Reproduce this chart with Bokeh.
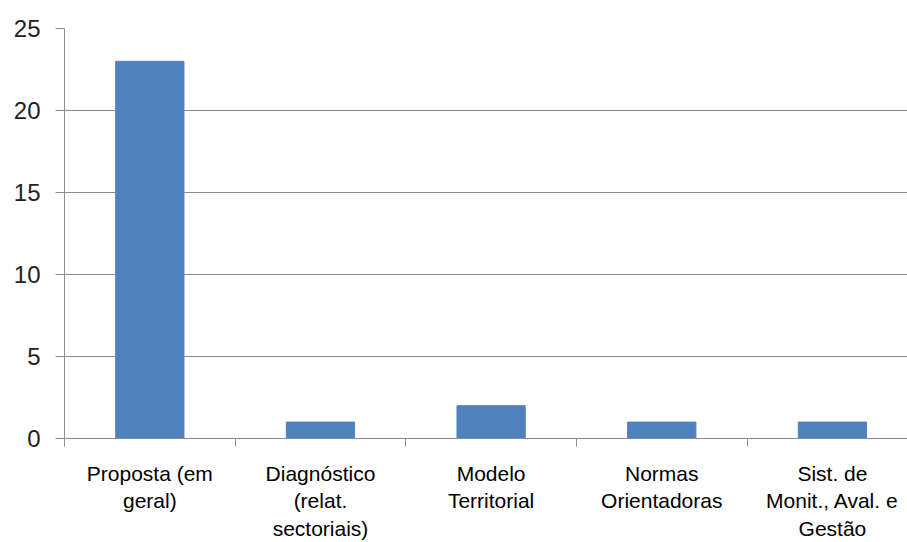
from bokeh.plotting import figure
from bokeh.models import FixedTicker, Range1d, ColumnDataSource
from bokeh.embed import file_html
from bokeh.resources import INLINE

categories = ["Proposta (em\ngeral)", "Diagnóstico\n(relat.\nsectoriais)", "Modelo\nTerritorial",
              "Normas\nOrientadoras", "Sist. de\nMonit., Aval. e\nGestão"]
values = [23, 1, 2, 1, 1]
y_ticks = [0, 5, 10, 15, 20, 25]

centers = [i + 0.5 for i in range(len(categories))]
bounds = list(range(len(categories) + 1))

src = ColumnDataSource(dict(x=centers, top=values))

p = figure(width=907, height=542, output_backend="svg", toolbar_location=None,
           x_range=Range1d(0, 4.94), y_range=Range1d(0, 25),
           min_border_left=64, min_border_right=0, min_border_top=28, min_border_bottom=90)
p.outline_line_color = None
p.background_fill_color = "white"

p.vbar(x="x", top="top", width=0.4, source=src, fill_color="#4F81BD", line_color="#4F81BD")

grey = "#8C8C8C"
p.xgrid.visible = False
p.ygrid.grid_line_color = grey
p.ygrid.grid_line_width = 1
p.ygrid.ticker = FixedTicker(ticks=y_ticks)

ya = p.yaxis[0]
ya.ticker = FixedTicker(ticks=y_ticks)
ya.axis_line_color = grey
ya.major_tick_line_color = grey
ya.major_tick_out = 9
ya.major_tick_in = 0
ya.minor_tick_line_color = None
ya.major_label_text_font = "Liberation Sans"
ya.major_label_text_font_size = "24px"
ya.major_label_text_color = "#222222"
ya.major_label_standoff = 15

xa = p.xaxis[0]
xa.ticker = FixedTicker(ticks=centers, minor_ticks=bounds)
xa.major_label_overrides = {c: lab for c, lab in zip(centers, categories)}
xa.axis_line_color = grey
xa.major_tick_line_color = None
xa.major_tick_out = 0
xa.major_tick_in = 0
xa.minor_tick_line_color = grey
xa.minor_tick_out = 8
xa.minor_tick_in = 0
xa.major_label_text_font = "Liberation Sans"
xa.major_label_text_font_size = "21px"
xa.major_label_text_color = "black"
xa.major_label_standoff = 15

open("out.html", "w").write(file_html(p, INLINE))
